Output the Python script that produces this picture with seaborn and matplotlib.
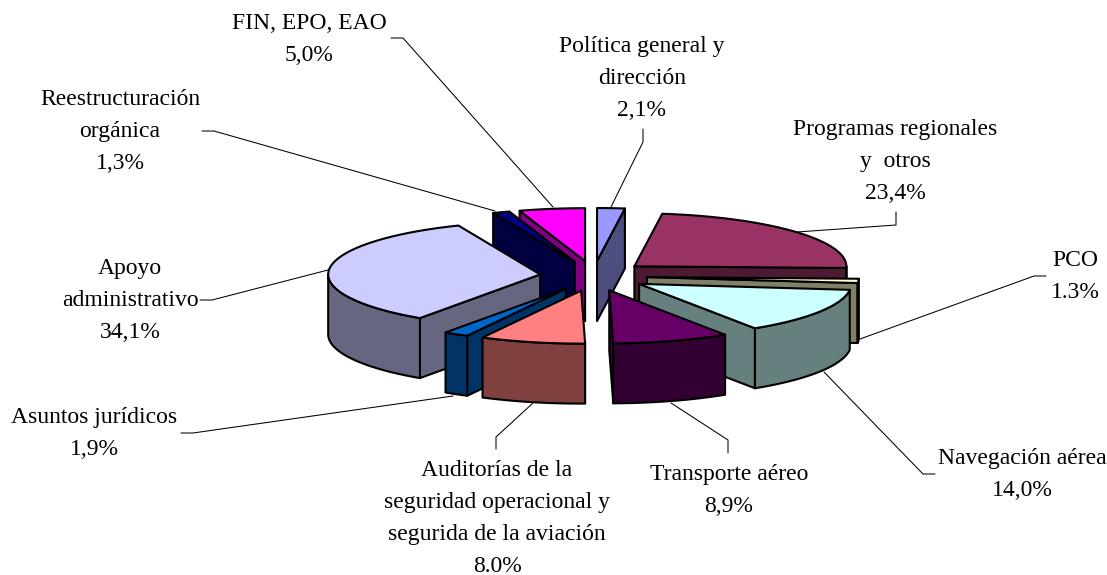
"""Exploded pseudo-3D pie, budget share by programme."""
import numpy as np
import matplotlib
matplotlib.use("Agg")
import matplotlib.pyplot as plt
import seaborn as sns

# clockwise from 12 o'clock
slice_names = ["Política general y\ndirección", "Programas regionales\ny  otros", "PCO",
               "Navegación aérea", "Transporte aéreo",
               "Auditorías de la\nseguridad operacional y\nsegurida de la aviación",
               "Asuntos jurídicos", "Apoyo\nadministrativo", "Reestructuración\norgánica",
               "FIN, EPO, EAO"]
slice_pct = [2.1, 23.4, 1.3, 14.0, 8.9, 8.0, 1.9, 34.1, 1.3, 5.0]
pct_text = ["2,1%", "23,4%", "1.3%", "14,0%", "8,9%", "8.0%", "1,9%", "34,1%", "1,3%", "5,0%"]
top_colors = ["#9999FF", "#993366", "#FFFFCC", "#CCFFFF", "#660066",
              "#FF8080", "#0066CC", "#CCCCFF", "#000080", "#FF00FF"]

# label anchor (centre x, first baseline y)
label_xy = [(642, 52), (895, 135), (1075, 266), (1022, 464), (729, 480),
            (497, 476), (94, 423), (130, 274), (120, 105), (309, 29)]
# leader polylines, label end first
leaders = [[(643, 129), (643, 142), (611, 207)], [(896, 212), (896, 225), (797, 232)],
           [(1046, 276), (1034, 276), (860, 339)], [(935, 474), (923, 474), (824, 372)],
           [(728, 453), (728, 440), (671, 403)], [(496, 449), (496, 437), (533, 403)],
           [(181, 433), (193, 433), (453, 396)], [(200, 300), (212, 300), (328, 270)],
           [(202, 131), (214, 131), (495, 211)], [(391, 38), (403, 38), (553, 207)]]

CX, CY = 593.5, 276
RX, RY = 212, 53
EX, EY = 53.6, 15
DEPTH = 60
LINE_STEP = 32

sns.set_theme(style="white")
plt.rcParams["font.family"] = ["Liberation Serif", "DejaVu Serif"]

fig, ax = plt.subplots(figsize=(11.07, 5.75), dpi=100)
ax.set_position([0, 0, 1, 1])
ax.set_xlim(0, 1107)
ax.set_ylim(575, 0)
ax.axis("off")

top_pal = sns.color_palette(top_colors)
side_pal = [tuple(c * 0.5 for c in col) for col in top_pal]

ends = np.cumsum(slice_pct) * 3.6
starts = np.r_[0, ends[:-1]]
mids = (starts + ends) / 2


def rim(deg, ox, oy):
    r = np.radians(deg)
    return ox + RX * np.sin(r), oy - RY * np.cos(r)


def poly(xs, ys, col):
    ax.fill(xs, ys, facecolor=col, edgecolor="black", linewidth=1.5, joinstyle="round")


# back slices first
for i in np.argsort(-np.cos(np.radians(mids))):
    m = np.radians(mids[i])
    ox, oy = CX + EX * np.sin(m), CY - EY * np.cos(m)
    a, b = starts[i], ends[i]
    top, side = top_pal[i], side_pal[i]

    for deg, vis in ((a, np.sin(np.radians(a)) < 0), (b, np.sin(np.radians(b)) > 0)):
        if vis:
            x, y = rim(deg, ox, oy)
            poly([ox, x, x, ox], [oy, y, y + DEPTH, oy + DEPTH], side)

    lo, hi = max(a, 90), min(b, 270)
    if hi > lo:
        t = np.linspace(lo, hi, 60)
        x, y = rim(t, ox, oy)
        poly(np.r_[x, x[::-1]], np.r_[y, y[::-1] + DEPTH], side)

    t = np.linspace(a, b, 80)
    x, y = rim(t, ox, oy)
    poly(np.r_[ox, x], np.r_[oy, y], top)

for pts in leaders:
    xs, ys = zip(*pts)
    ax.plot(xs, ys, color="black", linewidth=0.75, zorder=0.5)

for name, pct, (x, y) in zip(slice_names, pct_text, label_xy):
    for k, line in enumerate(f"{name}\n{pct}".split("\n")):
        ax.text(x, y + k * LINE_STEP, line, ha="center", va="baseline",
                fontsize=17, color="black")

fig.savefig("out.png", dpi=100)
